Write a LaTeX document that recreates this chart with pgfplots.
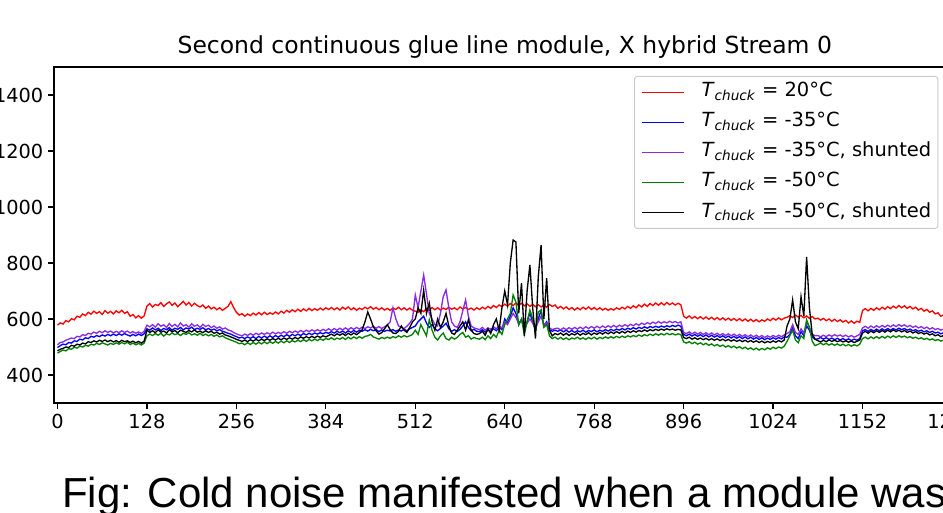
\documentclass[border=0pt]{standalone}
\usepackage{fontspec}
\setmainfont{DejaVu Sans}
\newfontfamily\capfont{Liberation Sans}
\usepackage{pgfplots}
\pgfplotsset{compat=1.18}
\usepackage{pgfplotstable}
\definecolor{mplgreen}{RGB}{0,128,0}
\definecolor{mplpurple}{RGB}{138,43,226}
\definecolor{legframe}{RGB}{204,204,204}

\pgfplotstableread{
x r b p g k
0 578 498 508 478 486
4 586 505 516 484 492
8 582 510 518 489 495
12 594 508 524 486 500
16 590 516 528 494 498
20 601 514 532 492 506
24 597 522 530 499 503
28 610 520 538 496 510
32 606 528 536 503 507
36 618 525 544 500 514
40 612 533 541 506 511
44 624 530 549 503 519
48 617 538 546 510 516
52 628 535 553 507 522
56 620 541 549 513 518
60 626 537 556 509 524
64 616 543 551 515 520
68 630 539 558 511 525
72 621 545 552 507 519
76 627 540 557 513 524
80 618 546 550 509 518
84 629 541 556 515 523
88 622 547 551 510 517
92 631 542 558 516 524
96 620 548 552 511 519
100 626 543 557 517 522
104 610 539 550 509 516
108 616 545 555 514 521
112 604 540 549 508 515
116 612 546 554 513 520
120 603 541 548 507 514
124 611 547 556 514 521
128 646 565 578 540 560
132 655 560 572 546 552
136 643 568 580 541 558
140 652 561 571 548 551
144 648 567 583 542 561
148 658 559 574 549 553
152 645 566 579 539 557
156 654 562 570 547 550
160 661 569 584 543 562
164 649 560 573 550 554
168 657 567 581 544 559
172 644 563 572 548 551
176 653 570 586 541 560
180 663 561 575 549 556
184 650 568 580 545 552
188 659 564 571 551 559
192 646 571 583 543 554
196 656 562 574 547 561
200 648 567 579 542 553
204 643 563 570 549 557
208 650 569 581 541 551
212 638 561 573 546 558
216 646 566 578 540 552
220 636 560 569 545 556
224 642 564 575 538 549
228 633 558 567 543 553
232 640 562 572 536 546
236 631 556 564 540 550
240 638 553 568 533 543
244 645 549 561 529 540
248 662 546 558 525 536
252 641 541 552 521 532
256 624 537 547 517 527
260 614 532 543 512 524
264 619 535 540 514 520
268 610 530 546 508 525
272 618 536 541 515 519
276 612 531 548 509 526
280 621 537 542 516 521
284 614 530 549 510 527
288 623 538 544 517 522
292 615 532 550 511 528
296 624 539 545 518 523
300 616 533 551 512 529
304 622 540 546 519 524
308 617 534 553 513 530
312 625 541 547 520 525
316 618 535 552 514 531
320 628 542 548 521 526
324 621 537 555 515 532
328 631 544 549 522 527
332 624 538 556 516 533
336 633 545 551 523 528
340 626 540 557 518 534
344 635 546 552 524 529
348 627 541 559 519 536
352 636 548 553 526 531
356 629 543 560 520 537
360 638 549 555 527 532
364 630 544 561 522 538
368 637 550 556 528 533
372 631 546 562 523 539
376 639 551 557 529 534
380 632 547 563 524 540
384 640 552 558 530 536
388 634 549 565 527 541
392 641 555 559 533 546
396 633 550 566 526 540
400 640 556 560 532 547
404 632 551 567 528 542
408 642 557 561 534 548
412 635 550 568 527 541
416 643 558 562 535 549
420 633 552 569 529 543
424 640 559 563 536 550
428 631 553 570 530 544
432 639 560 564 537 552
436 634 556 571 531 562
440 642 562 566 538 590
444 636 557 572 540 625
448 644 563 568 545 600
452 635 558 574 536 572
456 641 562 567 532 558
460 633 555 573 528 546
464 640 561 566 534 551
468 632 556 572 530 565
472 638 560 578 535 580
476 631 557 590 531 562
480 639 562 640 537 550
484 634 556 602 533 548
488 642 561 575 540 556
492 633 557 570 535 575
496 640 563 566 541 560
500 632 558 574 536 552
504 639 565 585 540 570
508 631 570 600 545 590
512 628 575 686 560 600
516 624 590 640 545 640
520 633 600 700 580 620
524 626 610 757 560 703
528 638 585 690 540 620
532 631 570 620 597 657
536 641 580 600 560 590
540 633 565 580 535 560
544 640 558 575 525 600
548 632 566 620 540 570
552 639 575 680 550 590
556 634 585 704 530 620
560 642 565 640 525 575
564 635 556 590 535 550
568 640 562 575 528 545
572 633 555 570 534 560
576 643 563 590 545 575
580 636 575 630 552 590
584 641 590 668 535 560
588 634 570 610 540 597
592 639 558 575 528 560
596 632 563 568 534 548
600 640 556 565 530 545
604 634 555 562 528 548
608 642 562 570 535 556
612 636 553 560 526 542
616 645 560 568 540 565
620 638 556 563 530 548
624 648 565 572 545 580
628 641 558 565 535 600
632 650 570 575 560 560
636 644 562 568 545 640
640 653 600 590 580 700
644 646 585 580 600 650
648 655 610 600 620 800
652 648 640 620 686 882
656 657 620 605 660 875
660 649 580 585 580 620
664 656 600 595 600 728
668 647 560 570 545 540
672 654 590 585 590 700
676 645 620 600 632 793
680 652 590 585 600 640
684 644 560 568 560 530
688 651 600 590 625 750
692 643 630 610 632 864
696 650 575 578 570 600
700 642 590 585 580 746
704 652 562 568 540 560
708 645 556 562 530 540
712 650 560 566 535 548
716 638 556 567 528 544
720 645 561 561 534 550
724 636 554 568 527 542
728 643 560 562 533 549
732 634 553 569 526 541
736 641 559 563 532 548
740 632 552 570 529 543
744 640 558 564 535 550
748 633 554 571 528 542
752 642 560 565 533 549
756 635 553 572 527 544
760 643 559 566 534 551
764 634 555 573 529 543
768 641 561 567 535 550
772 633 554 574 528 545
776 640 560 568 534 552
780 632 556 575 530 546
784 638 562 569 536 553
788 631 557 576 531 547
792 637 563 570 537 554
796 632 558 577 532 548
800 640 564 571 538 555
804 634 560 578 533 549
808 642 566 573 539 556
812 636 561 580 534 550
816 645 567 574 540 557
820 638 563 581 536 552
824 647 569 576 541 558
828 640 564 583 537 553
832 650 570 578 543 559
836 643 566 585 538 555
840 653 572 580 544 561
844 645 567 587 540 556
848 655 573 582 546 562
852 648 569 589 541 558
856 657 574 584 547 563
860 649 570 591 542 559
864 658 575 585 548 564
868 650 571 590 543 560
872 659 576 586 549 565
876 651 572 592 544 561
880 657 577 587 548 564
884 650 573 591 543 560
888 656 578 586 547 563
892 651 574 590 544 561
896 610 545 552 518 534
900 603 540 548 514 530
904 611 546 554 519 535
908 602 539 547 512 528
912 609 545 553 517 533
916 601 538 546 510 527
920 608 544 552 515 532
924 600 537 545 508 526
928 607 543 551 513 531
932 599 536 544 506 525
936 606 542 550 511 530
940 598 535 543 504 524
944 605 541 549 509 529
948 597 534 542 502 523
952 604 540 548 507 528
956 596 533 541 500 522
960 603 539 547 505 527
964 595 532 540 498 521
968 602 538 546 503 526
972 594 531 539 496 520
976 601 537 545 501 525
980 593 530 538 494 519
984 600 536 544 499 524
988 592 529 537 492 518
992 599 535 543 497 523
996 591 528 536 490 517
1000 598 534 542 496 522
1004 590 527 535 489 516
1008 597 533 541 495 521
1012 592 526 534 490 515
1016 600 532 540 497 520
1020 594 527 535 492 516
1024 603 533 541 499 522
1028 596 528 536 494 517
1032 604 534 542 500 523
1036 597 529 537 496 518
1040 603 536 543 503 525
1044 606 535 548 520 575
1048 612 545 555 540 600
1052 605 570 580 560 668
1056 614 540 552 525 590
1060 607 530 545 515 565
1064 613 555 565 540 679
1068 604 540 550 530 610
1072 611 575 590 597 822
1076 602 560 570 570 640
1080 609 535 546 520 545
1084 600 528 540 505 528
1088 603 529 541 509 523
1092 596 534 536 514 518
1096 602 528 542 508 524
1100 594 533 537 513 519
1104 600 527 543 507 525
1108 592 532 538 512 520
1112 599 526 544 506 524
1116 591 531 539 511 519
1120 597 525 543 505 523
1124 589 530 537 510 518
1128 595 524 542 504 522
1132 586 529 536 509 517
1136 593 523 541 503 521
1140 585 528 535 508 516
1144 592 524 540 504 520
1148 588 530 545 510 525
1152 630 558 568 530 550
1156 637 562 574 535 556
1160 629 556 567 529 549
1164 638 563 575 536 557
1168 631 557 569 530 551
1172 640 564 576 537 558
1176 633 558 570 531 552
1180 642 565 577 538 559
1184 635 559 571 532 553
1188 644 566 578 539 560
1192 637 560 572 533 554
1196 646 566 579 540 561
1200 639 561 573 534 555
1204 648 567 580 540 560
1208 640 562 574 535 554
1212 647 566 579 539 559
1216 638 560 572 533 552
1220 645 564 577 537 557
1224 636 558 570 531 550
1228 642 562 575 535 555
1232 632 556 568 529 548
1236 638 560 573 533 552
1240 628 554 566 527 546
1244 634 558 571 531 550
1248 624 552 564 525 543
1252 629 556 569 529 547
1256 618 550 562 523 540
1260 622 553 566 527 544
1264 610 547 560 521 537
1268 614 551 564 525 541
1272 604 545 558 519 534
1276 608 549 562 523 538
1280 600 543 556 517 532
1284 605 548 561 522 536
}\data

\newcommand{\Tc}{\textit{T}\textsubscript{\textit{chuck}}}

\begin{document}
\begin{tikzpicture}
\path[use as bounding box] (0pt,0pt) rectangle (707.25pt,384.75pt);
\clip (0pt,0pt) rectangle (707.25pt,384.75pt);
\begin{axis}[
  at={(40.5pt,82.5pt)}, anchor=south west,
  scale only axis, width=676.1pt, height=252pt,
  xmin=-5, xmax=1285, ymin=300, ymax=1500,
  xtick={0,128,256,384,512,640,768,896,1024,1152,1280},
  ytick={400,600,800,1000,1200,1400},
  tick pos=left, tick align=outside, major tick length=4.5pt,
  tick style={line width=0.9pt, black},
  axis line style={line width=1pt},
  /pgf/number format/assume math mode=true,
  /pgf/number format/set thousands separator={},
  ticklabel style={font=\fontsize{14.5}{16}\selectfont},
  title={Second continuous glue line module, X hybrid Stream 0},
  title style={font=\fontsize{17.6}{20}\selectfont, at={(0.5,1)}, anchor=base, yshift=4.3pt},
  legend style={at={(0.6434,1)}, anchor=north west, yshift=-6.75pt,
    draw=legframe, rounded corners=2pt, fill=white, line width=0.75pt,
    font=\fontsize{14.6}{16}\selectfont, inner xsep=5pt, inner ysep=5pt,
    row sep=9pt, column sep=12.75pt,
    nodes={inner xsep=0pt, inner ysep=0pt, text height=10pt, text depth=3.6pt}},
  legend cell align=left,
  legend image code/.code={\draw[#1, line width=1pt] (0pt,0pt) -- (31.5pt,0pt);},
  every axis plot/.append style={line width=1pt, no markers},
]
\addplot[red] table[x=x, y=r]{\data};
\addlegendentry{\Tc{} = 20°C}
\addplot[blue] table[x=x, y=b]{\data};
\addlegendentry{\Tc{} = -35°C}
\addplot[mplpurple] table[x=x, y=p]{\data};
\addlegendentry{\Tc{} = -35°C, shunted}
\addplot[mplgreen] table[x=x, y=g]{\data};
\addlegendentry{\Tc{} = -50°C}
\addplot[black] table[x=x, y=k]{\data};
\addlegendentry{\Tc{} = -50°C, shunted}
\end{axis}
\node[anchor=base west, inner sep=0pt, font=\capfont\fontsize{31.5}{34}\selectfont] at (46.5pt,3.75pt) {Fig: Cold noise manifested when a module was};
\end{tikzpicture}
\end{document}
